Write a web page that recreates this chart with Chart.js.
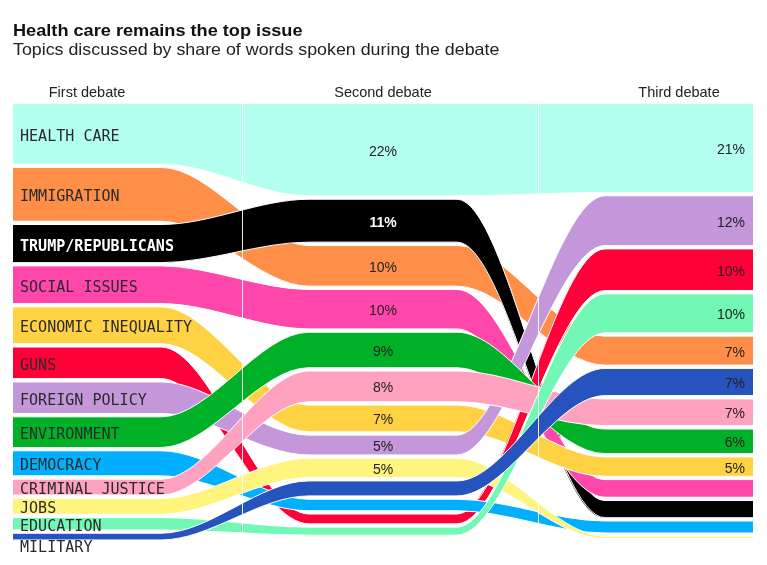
<!DOCTYPE html>
<html><head><meta charset="utf-8">
<script src="https://cdn.jsdelivr.net/npm/chart.js@4"></script>
<style>
html,body{margin:0;padding:0;background:#fff;}
#wrap{position:relative;width:767px;height:565px;overflow:hidden;}
#title{position:absolute;left:13px;top:20px;font:bold 16.5px/20px "Liberation Sans",Arial,sans-serif;color:#111;white-space:nowrap;transform:scaleX(1.1);transform-origin:0 0;}
#sub{position:absolute;left:13px;top:39px;font:16.5px/20px "Liberation Sans",Arial,sans-serif;color:#222;white-space:nowrap;transform:scaleX(1.08);transform-origin:0 0;}
canvas{position:absolute;left:0;top:0;}
</style></head><body>
<div id="wrap">
<canvas id="c" width="767" height="565"></canvas>
<div id="title">Health care remains the top issue</div>
<div id="sub">Topics discussed by share of words spoken during the debate</div>
</div>
<script>
// ---- data ----
const debates = ['First debate', 'Second debate', 'Third debate'];
const topics = ['HEALTH CARE', 'IMMIGRATION', 'TRUMP/REPUBLICANS', 'SOCIAL ISSUES', 'ECONOMIC INEQUALITY', 'GUNS',
  'FOREIGN POLICY', 'ENVIRONMENT', 'DEMOCRACY', 'CRIMINAL JUSTICE', 'JOBS', 'EDUCATION', 'MILITARY'];
const colors = ['#b3fff0', '#ff8f48', '#000000', '#ff46aa', '#ffd243', '#ff0039',
  '#c497da', '#00b026', '#00b0ff', '#ffa2bf', '#fff47e', '#72f8b4', '#2653bd'];
// share of words spoken (%), same order as topics
const firstDebate  = [14.7, 13.1, 9.5, 9.4, 9.2, 8.0, 8.0, 7.8, 6.5, 4.4, 4.4, 3.6, 2.3];
const secondDebate = [22.0, 10.1, 10.6, 9.8, 6.9, 3.0, 5.3, 8.9, 3.4, 7.8, 5.2, 2.6, 4.2];
const thirdDebate  = [21.2, 7.4, 4.7, 4.8, 5.2, 10.3, 12.2, 6.4, 3.5, 6.9, 1.3, 9.7, 7.0];
const dividers = [1.55, 3.55];

// ---- layout (stacking in value units) ----
const columns = [firstDebate, secondDebate, thirdDebate];
const GAP = 0.76;
function stackColumn(vals) {
  const order = vals.map((v, i) => i).sort((a, b) => vals[b] - vals[a]);
  const top = [], bottom = [];
  let acc = 0;
  order.forEach(i => { top[i] = acc; bottom[i] = acc + vals[i] - GAP; acc += vals[i]; });
  return { top, bottom };
}
const stacks = columns.map(stackColumn);

const datasets = [];
for (let i = topics.length - 1; i >= 0; i--) {
  const edge = key => stacks.flatMap((s, c) => [{ x: 2 * c, y: s[key][i] }, { x: 2 * c + 1, y: s[key][i] }]);
  datasets.push({ label: topics[i] + ' (top)', data: edge('top'), borderColor: '#ffffff', borderWidth: 1,
    backgroundColor: colors[i], fill: false, pointRadius: 0, cubicInterpolationMode: 'monotone' });
  datasets.push({ label: topics[i], data: edge('bottom'), borderColor: '#ffffff', borderWidth: 1,
    backgroundColor: colors[i], fill: '-1', pointRadius: 0, cubicInterpolationMode: 'monotone' });
}

const isDark = c => c === '#000000';

const labelPlugin = {
  id: 'ribbonLabels',
  afterDatasetsDraw(chart) {
    const { ctx, chartArea } = chart;
    const x = chart.scales.x, y = chart.scales.y;
    ctx.save();
    // dividers
    ctx.strokeStyle = 'rgba(255,255,255,0.9)';
    ctx.lineWidth = 1;
    dividers.forEach(d => {
      const px = Math.round(x.getPixelForValue(d)) + 0.5;
      ctx.beginPath(); ctx.moveTo(px, chartArea.top); ctx.lineTo(px, chartArea.bottom - 6); ctx.stroke();
    });
    // column headers
    ctx.fillStyle = '#222';
    ctx.font = '14.5px "Liberation Sans", Arial, sans-serif';
    ctx.textAlign = 'center';
    ctx.textBaseline = 'alphabetic';
    debates.forEach((d, c) => ctx.fillText(d, x.getPixelForValue(2 * c + 0.5), chartArea.top - 6));
    // topic names at first debate
    ctx.textAlign = 'left';
    const s0 = stacks[0];
    topics.forEach((t, i) => {
      const topPx = y.getPixelForValue(s0.top[i]);
      const botPx = y.getPixelForValue(s0.bottom[i]);
      const base = firstDebate[i] < 3 ? botPx + 12 : (topPx + botPx) / 2 + 7;
      ctx.save();
      ctx.translate(x.getPixelForValue(0) + 7, base);
      ctx.scale(0.94, 1);
      ctx.font = (isDark(colors[i]) ? 'bold ' : '') + '16px "DejaVu Sans Mono", monospace';
      ctx.fillStyle = isDark(colors[i]) ? '#ffffff' : '#2a2a2a';
      ctx.fillText(t, 0, 0);
      ctx.restore();
    });
    // percentages for second and third debate
    [1, 2].forEach(c => {
      const s = stacks[c];
      columns[c].forEach((v, i) => {
        if (v < 5) return;
        const mid = (y.getPixelForValue(s.top[i]) + y.getPixelForValue(s.bottom[i])) / 2;
        ctx.font = (isDark(colors[i]) ? 'bold ' : '') + '14px "Liberation Sans", Arial, sans-serif';
        ctx.fillStyle = isDark(colors[i]) ? '#ffffff' : '#222';
        if (c === 1) {
          ctx.textAlign = 'center';
          ctx.fillText(Math.round(v) + '%', x.getPixelForValue(2 * c + 0.5), mid + 6);
        } else {
          ctx.textAlign = 'right';
          ctx.fillText(Math.round(v) + '%', x.getPixelForValue(2 * c + 1) - 8, mid + 6);
        }
      });
    });
    ctx.restore();
  }
};

new Chart(document.getElementById('c'), {
  type: 'line',
  data: { datasets },
  options: {
    responsive: false,
    animation: false,
    events: [],
    layout: { padding: { left: 13, right: 14, top: 103.3, bottom: 21.3 } },
    scales: {
      x: { type: 'linear', min: 0, max: 5, display: false },
      y: { type: 'linear', min: 0, max: 101, reverse: true, display: false }
    },
    plugins: { legend: { display: false }, tooltip: { enabled: false }, title: { display: false } }
  },
  plugins: [labelPlugin]
});
</script>
</body></html>
